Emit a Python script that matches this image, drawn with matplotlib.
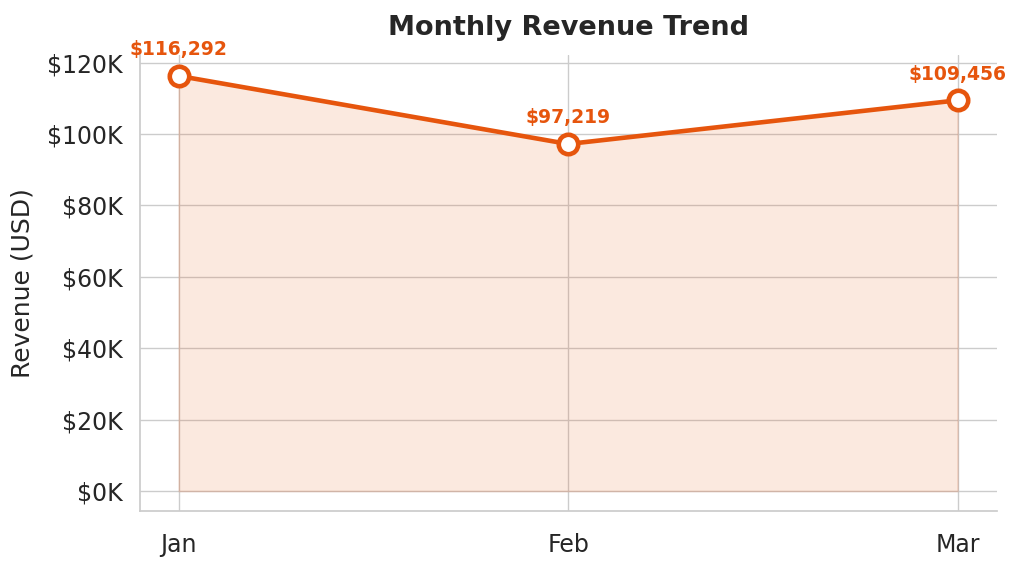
import numpy as np
import matplotlib.pyplot as plt
import seaborn as sns
from matplotlib.ticker import FuncFormatter

# Daten
months = ['Jan', 'Feb', 'Mar']
revenue = [116292, 97219, 109456]

farbe = '#e6550d'

sns.set_theme(style='whitegrid')
plt.rcParams['font.family'] = ['DejaVu Sans']

fig, ax = plt.subplots(figsize=(10.2, 5.71), dpi=100)
fig.subplots_adjust(left=0.137, right=0.977, bottom=0.105, top=0.904)

x = np.arange(len(months))
ax.fill_between(x, revenue, 0, color=farbe, alpha=0.13, edgecolor=farbe, linewidth=1.2)
ax.plot(x, revenue, color=farbe, linewidth=3.3, marker='o', markersize=14,
        markerfacecolor='white', markeredgecolor=farbe, markeredgewidth=3.3, zorder=3)

for xi, yi in zip(x, revenue):
    ax.annotate(f'${yi:,}', (xi, yi), xytext=(0, 12), textcoords='offset points',
                ha='center', va='bottom', fontsize=13.5, fontweight='bold', color=farbe)

ax.set_xticks(x)
ax.set_xticklabels(months)
ax.set_xlim(-0.1, 2.1)
ax.set_ylim(-5600, 122200)
ax.set_yticks(np.arange(0, 120001, 20000))
ax.yaxis.set_major_formatter(FuncFormatter(lambda v, p: f'${v/1000:.0f}K'))
ax.tick_params(axis='both', labelsize=17)
ax.tick_params(axis='x', pad=10)
ax.tick_params(axis='y', pad=6)

ax.set_ylabel('Revenue (USD)', fontsize=18, labelpad=9)
ax.set_title('Monthly Revenue Trend', fontsize=19.5, fontweight='bold', pad=14)
sns.despine()

plt.savefig('out.png')
